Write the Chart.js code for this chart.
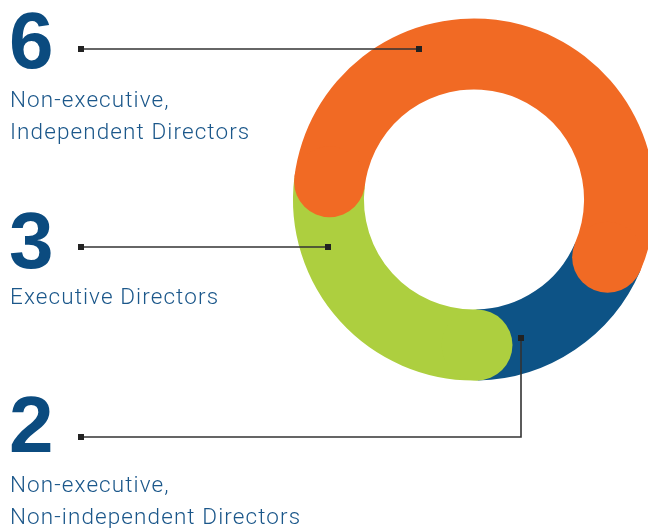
<!DOCTYPE html>
<html>
<head>
<meta charset="utf-8">
<script src="https://cdn.jsdelivr.net/npm/chart.js@4.4.1/dist/chart.umd.min.js"></script>
<style>
	html, body { margin:0; padding:0; background:#fff; overflow:hidden; }
	#wrap { position:relative; width:660px; height:528px; }
	#chart { position:absolute; left:0; top:0; }
	.num { position:absolute; left:9px; font:bold 80px/1 "Liberation Sans", Arial, sans-serif; color:#0b4b7f; }
	.lbl { position:absolute; left:10px; font:300 22.5px/32px Roboto, "Liberation Sans", sans-serif; color:#1b578a; letter-spacing:1.1px; white-space:nowrap; }
</style>
</head>
<body>
<div id="wrap">
	<canvas id="chart" width="660" height="528"></canvas>
	<div class="num" style="top:1px">6</div>
	<div class="lbl" style="top:83px">Non-executive,<br>Independent Directors</div>
	<div class="num" style="top:201px">3</div>
	<div class="lbl" style="top:280px">Executive Directors</div>
	<div class="num" style="top:385px">2</div>
	<div class="lbl" style="top:468px">Non-executive,<br>Non-independent Directors</div>
</div>
<script>
//데이터 (시계 방향: 주황, 파랑, 초록)
var categories = ['Non-executive, Independent Directors', 'Non-executive, Non-independent Directors', 'Executive Directors'];
var counts = [6, 2, 3];
var colors = ['#f16a24', '#0d5386', '#adcf3f'];
//둥근 끝 [시작, 끝]
var caps = [[true, true], [false, false], [true, false]];

//둥근 끝 그리기
var roundCaps = {
	id: 'roundCaps',
	afterDatasetsDraw: function (chart) {
		var ctx = chart.ctx;
		var arcs = chart.getDatasetMeta(0).data;
		arcs.forEach(function (arc, i) {
			var p = arc.getProps(['x', 'y', 'startAngle', 'endAngle', 'innerRadius', 'outerRadius']);
			var mid = (p.innerRadius + p.outerRadius) / 2;
			var r = (p.outerRadius - p.innerRadius) / 2;
			[p.startAngle, p.endAngle].forEach(function (a, k) {
				if (!caps[i][k]) return;
				ctx.save();
				ctx.fillStyle = colors[i];
				ctx.beginPath();
				ctx.arc(p.x + Math.cos(a) * mid, p.y + Math.sin(a) * mid, r, 0, Math.PI * 2);
				ctx.fill();
				ctx.restore();
			});
		});
	}
};

//지시선
var leaders = {
	id: 'leaders',
	afterDraw: function (chart) {
		var ctx = chart.ctx;
		var lines = [
			[[81, 49], [419, 49]],
			[[81, 247], [328, 247]],
			[[81, 437], [521, 437], [521, 338]]
		];
		ctx.save();
		ctx.strokeStyle = '#333';
		ctx.lineWidth = 1.6;
		ctx.fillStyle = '#222';
		lines.forEach(function (pts) {
			ctx.beginPath();
			pts.forEach(function (pt, j) {
				if (j === 0) ctx.moveTo(pt[0], pt[1]); else ctx.lineTo(pt[0], pt[1]);
			});
			ctx.stroke();
			var a = pts[0], b = pts[pts.length - 1];
			ctx.fillRect(a[0] - 3, a[1] - 3, 6, 6);
			ctx.fillRect(b[0] - 3, b[1] - 3, 6, 6);
		});
		ctx.restore();
	}
};

new Chart(document.getElementById('chart'), {
	type: 'doughnut',
	data: {
		labels: categories,
		datasets: [{
			data: counts,
			backgroundColor: colors,
			borderWidth: 0,
			hoverOffset: 0
		}]
	},
	options: {
		responsive: false,
		animation: false,
		events: [],
		rotation: 277,
		cutout: '60.8%',
		layout: { padding: { left: 293, right: 5, top: 18.5, bottom: 147.5 } },
		plugins: { legend: { display: false }, tooltip: { enabled: false } }
	},
	plugins: [roundCaps, leaders]
});
</script>
</body>
</html>
